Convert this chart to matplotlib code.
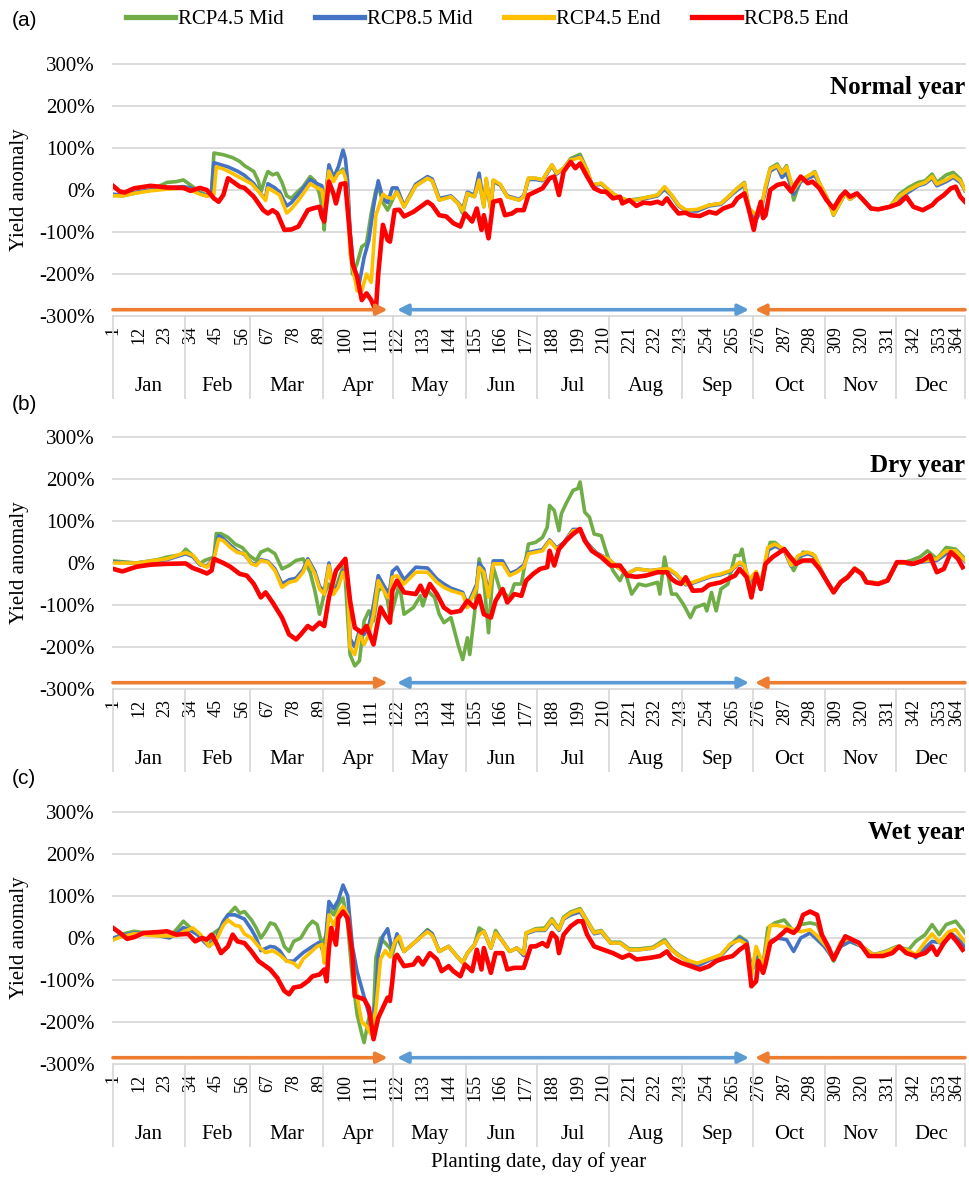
import matplotlib
matplotlib.use("Agg")
import matplotlib.pyplot as plt
from matplotlib.lines import Line2D
from matplotlib.transforms import blended_transform_factory

plt.rcParams['font.family'] = ['Liberation Serif', 'DejaVu Serif']

# series styling
series_names = ['RCP4.5 Mid', 'RCP8.5 Mid', 'RCP4.5 End', 'RCP8.5 End']
series_colors = ['#70AD47', '#4472C4', '#FFC000', '#FF0000']
series_widths = [2.6, 2.6, 2.6, 3.3]

# category axis
month_names = ['Jan', 'Feb', 'Mar', 'Apr', 'May', 'Jun',
               'Jul', 'Aug', 'Sep', 'Oct', 'Nov', 'Dec']
month_starts = [1, 32, 60, 91, 121, 152, 182, 213, 244, 274, 305, 335, 365]
tick_days = list(range(1, 365, 11))
y_ticks = [-300, -200, -100, 0, 100, 200, 300]

# (day, yield anomaly %)
# ---- (a) normal year
normal_45_mid = [
    (1, -12), (5, -14), (10, -8), (17, 0), (21, 10), (24, 18), (28, 20), (31, 24), (34, 12),
    (38, -5), (41, -12), (43, -2), (44, 88), (46, 86), (48, 84), (52, 77), (55, 68), (57, 58),
    (61, 44), (63, 20), (64, -5), (66, 30), (67, 44), (69, 36), (71, 40), (73, 18), (75, -14),
    (77, -20), (79, -8), (82, 8), (85, 32), (87, 22), (89, -10), (90, -40), (91, -95), (92, 10),
    (93, 45), (95, 30), (97, 40), (99, 50), (100, 35), (101, -10), (102, -100), (103, -200),
    (105, -175), (107, -135), (109, -127), (111, -56), (113, 0), (114, 10), (116, -30),
    (118, -48), (120, -25), (122, 0), (125, -40), (130, 10), (135, 28), (137, 22), (140, -24),
    (145, -16), (148, -32), (150, -56), (152, -10), (155, -16), (157, 20), (159, -40), (160, 20),
    (162, -48), (163, 20), (166, 12), (169, -16), (174, -24), (176, -16), (178, 28), (181, 28),
    (184, 24), (188, 60), (190, 40), (193, 52), (196, 75), (198, 80), (200, 85), (203, 48),
    (205, 12), (209, 16), (213, -4), (216, -16), (220, -24), (224, -22), (228, -18), (230, -16),
    (233, -12), (236, 6), (239, -12), (242, -36), (245, -48), (250, -48), (255, -36), (260, -32),
    (264, -12), (267, 4), (270, 18), (272, -44), (275, -60), (277, -48), (279, 8), (281, 52),
    (284, 62), (286, 42), (288, 58), (291, -24), (294, 24), (298, 36), (300, 44), (302, 16),
    (305, -16), (308, -60), (311, -28), (313, -8), (315, -22), (318, -10), (320, -20), (324, -44),
    (327, -46), (332, -40), (336, -10), (340, 6), (344, 18), (347, 22), (350, 38), (352, 18),
    (356, 36), (359, 42), (362, 26), (364, -2)]
normal_85_mid = [
    (1, -10), (5, -12), (10, -6), (17, 0), (24, 5), (31, 8), (34, 5), (38, -8), (41, -14),
    (43, -5), (44, 65), (47, 60), (50, 55), (54, 45), (57, 35), (61, 15), (64, -10), (66, -20),
    (67, 15), (70, 5), (72, -5), (75, -38), (77, -30), (80, -10), (85, 25), (88, 15), (90, 10),
    (91, -50), (93, 60), (95, 30), (97, 55), (99, 95), (100, 75), (101, 20), (102, -100),
    (104, -210), (106, -220), (108, -160), (110, -120), (112, -40), (114, 22), (116, -20),
    (118, -30), (120, 5), (122, 5), (125, -38), (130, 14), (135, 32), (137, 26), (140, -20),
    (145, -14), (148, -30), (150, -45), (152, -5), (155, -12), (157, 40), (159, -35), (160, 25),
    (162, -45), (163, 22), (166, 12), (169, -14), (174, -22), (176, -14), (178, 25), (181, 25),
    (184, 22), (188, 58), (190, 38), (193, 50), (196, 72), (198, 76), (200, 80), (203, 45),
    (205, 10), (209, 14), (213, -6), (216, -18), (220, -26), (224, -24), (228, -20), (230, -18),
    (233, -14), (236, 2), (239, -14), (242, -38), (245, -50), (250, -50), (255, -38), (260, -34),
    (264, -14), (267, 0), (270, 12), (272, -50), (275, -71), (277, -50), (279, 0), (281, 45),
    (284, 55), (286, 30), (288, 40), (291, -10), (294, 20), (298, 30), (300, 35), (302, 14),
    (305, -18), (308, -55), (311, -28), (313, -8), (315, -22), (318, -10), (320, -20), (324, -44),
    (327, -46), (332, -40), (336, -20), (340, -5), (344, 10), (347, 15), (350, 28), (352, 10),
    (356, 20), (359, 30), (362, 18), (364, 0)]
normal_45_end = [
    (1, -14), (5, -14), (10, -8), (17, -2), (24, 2), (31, 5), (34, 0), (38, -10), (41, -15),
    (44, -10), (45, 55), (48, 50), (50, 45), (55, 30), (60, 15), (64, -10), (66, -25), (67, 5),
    (70, -5), (72, -12), (75, -55), (77, -45), (80, -25), (85, 15), (88, 5), (90, 0), (91, -40),
    (93, 45), (95, 20), (97, 40), (99, 45), (100, 30), (101, -20), (102, -150), (105, -240),
    (107, -240), (109, -200), (111, -220), (113, -60), (116, -10), (118, -18), (120, -20),
    (122, -5), (125, -40), (130, 10), (135, 28), (137, 22), (140, -24), (145, -16), (148, -32),
    (150, -50), (152, -8), (155, -16), (157, 24), (159, -40), (160, 28), (162, -48), (163, 24),
    (166, 14), (169, -16), (174, -24), (176, -16), (178, 28), (181, 28), (184, 24), (188, 60),
    (190, 40), (193, 52), (196, 72), (198, 74), (200, 78), (203, 48), (205, 12), (209, 16),
    (213, -4), (216, -16), (220, -24), (224, -24), (228, -18), (230, -16), (233, -12), (236, 8),
    (239, -12), (242, -36), (245, -48), (250, -46), (255, -36), (260, -32), (264, -12), (267, 4),
    (270, 16), (272, -44), (275, -60), (277, -48), (279, 8), (281, 50), (284, 58), (286, 40),
    (288, 55), (291, 0), (294, 24), (298, 36), (300, 42), (302, 16), (305, -16), (308, -58),
    (311, -28), (313, -8), (315, -22), (318, -10), (320, -20), (324, -44), (327, -46), (332, -40),
    (336, -15), (340, 0), (344, 12), (347, 18), (350, 32), (352, 14), (356, 24), (359, 34),
    (362, 22), (364, 0)]
normal_85_end = [
    (1, 10), (4, -4), (6, -6), (10, 4), (17, 10), (24, 6), (31, 5), (34, -2), (38, 5), (41, 0),
    (44, -20), (46, -28), (48, -12), (50, 28), (52, 20), (55, 8), (57, 5), (61, -16), (65, -48),
    (67, -56), (69, -48), (71, -56), (74, -95), (77, -94), (80, -87), (84, -48), (86, -44),
    (89, -40), (90, -64), (91, -75), (93, 20), (95, -10), (96, -32), (98, 14), (100, 16),
    (101, -48), (103, -175), (105, -206), (107, -262), (109, -246), (111, -262), (113, -288),
    (114, -200), (116, -83), (118, -119), (119, -123), (121, -48), (123, -47), (125, -63),
    (129, -52), (132, -40), (135, -28), (137, -36), (140, -60), (143, -63), (146, -79), (149, -87),
    (151, -56), (154, -75), (156, -44), (158, -95), (159, -60), (161, -115), (163, -28),
    (166, -24), (168, -60), (171, -56), (173, -48), (176, -48), (178, -12), (181, -4), (184, 4),
    (187, 28), (189, 32), (191, -12), (193, 44), (196, 67), (198, 52), (200, 63), (203, 32),
    (206, 4), (209, -4), (211, -4), (214, -20), (217, -16), (218, -32), (221, -24), (224, -38),
    (227, -30), (230, -32), (233, -28), (235, -33), (237, -20), (239, -36), (242, -56), (245, -54),
    (247, -60), (251, -62), (255, -52), (258, -56), (261, -44), (265, -36), (267, -20), (270, -8),
    (272, -48), (274, -95), (275, -67), (277, -28), (278, -67), (279, -60), (281, 0), (284, 12),
    (287, 16), (290, -4), (292, 16), (294, 32), (297, 16), (299, 20), (302, 4), (305, -24),
    (308, -44), (311, -16), (313, -4), (315, -16), (318, -8), (320, -20), (324, -44), (327, -46),
    (332, -40), (336, -32), (339, -16), (342, -40), (346, -48), (350, -36), (352, -24),
    (355, -12), (358, 4), (360, 8), (362, -16), (364, -28)]

# ---- (b) dry year
dry_45_mid = [
    (1, 5), (11, 0), (20, 8), (24, 14), (30, 20), (32, 33), (35, 18), (38, -2), (40, 6), (44, 14),
    (45, 70), (47, 70), (50, 61), (53, 45), (56, 37), (59, 18), (62, 6), (64, 26), (67, 33),
    (70, 22), (73, -14), (76, -6), (79, 6), (82, 10), (85, -22), (87, -66), (89, -122), (91, -74),
    (93, -50), (95, -74), (97, -42), (99, -10), (100, -40), (102, -218), (104, -245), (106, -233),
    (108, -138), (110, -114), (112, -138), (114, -66), (116, -58), (118, -90), (119, -130),
    (120, -114), (123, -50), (125, -122), (129, -106), (132, -78), (133, -102), (135, -66),
    (138, -82), (140, -122), (142, -142), (145, -130), (148, -194), (150, -230), (152, -178),
    (153, -218), (155, -122), (157, 10), (159, -42), (161, -166), (163, -10), (166, -66),
    (170, -82), (172, -50), (175, -50), (178, 45), (181, 49), (184, 61), (186, 85), (187, 137),
    (189, 125), (191, 77), (192, 117), (194, 141), (197, 173), (199, 177), (200, 193), (202, 121),
    (204, 109), (206, 69), (209, 65), (211, 29), (214, -18), (217, -42), (219, -18), (222, -74),
    (225, -50), (228, -54), (233, -46), (234, -74), (236, 14), (239, -74), (241, -74), (244, -98),
    (247, -130), (249, -106), (253, -98), (254, -114), (256, -70), (258, -114), (260, -62),
    (263, -50), (266, 18), (268, 18), (269, 33), (272, -58), (275, -26), (277, -62), (279, -2),
    (281, 49), (283, 49), (287, 29), (291, -18), (295, 26), (299, 22), (302, -14), (305, -42),
    (308, -70), (311, -46), (314, -34), (317, -14), (320, -26), (322, -46), (327, -50), (331, -42),
    (335, 2), (338, 2), (341, 6), (345, 15), (348, 29), (352, 10), (356, 37), (360, 33), (364, 10)]
dry_85_mid = [
    (1, 2), (11, 0), (24, 8), (32, 22), (35, 15), (38, -4), (41, -8), (44, 12), (46, 65), (48, 58),
    (51, 42), (54, 28), (57, 20), (60, 0), (62, -4), (64, 8), (67, 4), (70, -14), (73, -50),
    (76, -40), (79, -36), (82, -16), (84, 10), (87, -20), (89, -56), (91, -68), (93, 0), (95, -70),
    (97, -52), (99, -18), (101, -40), (102, -180), (104, -200), (106, -160), (108, -170),
    (110, -150), (112, -100), (114, -30), (116, -50), (118, -70), (119, -60), (120, -20),
    (122, -10), (125, -40), (130, -10), (135, -12), (139, -38), (142, -50), (145, -60), (150, -70),
    (152, -100), (156, -50), (157, 0), (159, -15), (161, -75), (163, 5), (167, 5), (170, -25),
    (173, -18), (176, -5), (178, 25), (184, 32), (187, 55), (190, 36), (193, 48), (197, 80),
    (200, 80), (203, 48), (207, 24), (212, 10), (216, -10), (220, -26), (224, -14), (230, -18),
    (236, -14), (238, -16), (241, -28), (245, -52), (248, -48), (252, -40), (256, -32), (260, -28),
    (264, -20), (268, 0), (270, -8), (272, -42), (275, -22), (277, -52), (280, 30), (283, 40),
    (287, 30), (290, -8), (293, 15), (297, 22), (300, 16), (303, -20), (305, -42), (308, -68),
    (311, -44), (314, -32), (317, -12), (320, -24), (322, -44), (327, -48), (331, -40), (335, 0),
    (338, 0), (341, -4), (345, 2), (348, 4), (352, 6), (356, 22), (360, 24), (364, 4)]
dry_45_end = [
    (1, 0), (11, 0), (24, 10), (32, 25), (35, 18), (38, -2), (41, -10), (44, 10), (46, 57),
    (48, 53), (51, 37), (54, 25), (57, 22), (60, -2), (62, -6), (64, 6), (67, 2), (70, -18),
    (73, -58), (76, -46), (79, -42), (82, -22), (84, 6), (87, -26), (89, -62), (91, -74), (93, -6),
    (95, -74), (97, -58), (99, -22), (101, -50), (102, -202), (104, -218), (106, -170),
    (108, -194), (110, -170), (112, -122), (114, -42), (116, -62), (118, -82), (119, -74),
    (120, -34), (122, -30), (125, -50), (130, -22), (135, -22), (139, -46), (142, -58), (145, -66),
    (150, -74), (152, -106), (156, -58), (157, -10), (159, -22), (161, -82), (163, -2), (167, -2),
    (170, -30), (173, -22), (176, -10), (178, 22), (184, 29), (187, 53), (190, 33), (193, 45),
    (197, 77), (200, 77), (203, 45), (207, 22), (212, 10), (216, -10), (220, -26), (224, -14),
    (230, -18), (236, -14), (238, -14), (241, -26), (245, -50), (248, -46), (252, -38), (256, -30),
    (260, -26), (264, -18), (268, 2), (270, -6), (272, -40), (275, -20), (277, -50), (280, 37),
    (283, 45), (287, 33), (290, -6), (293, 18), (297, 26), (300, 18), (303, -20), (305, -42),
    (308, -68), (311, -44), (314, -32), (317, -12), (320, -24), (322, -44), (327, -48), (331, -40),
    (335, 0), (338, 0), (341, -2), (345, 4), (348, 6), (352, 10), (356, 29), (360, 29), (364, 6)]
dry_85_end = [
    (1, -14), (5, -20), (11, -9), (17, -4), (24, -2), (32, -1), (35, -12), (38, -18), (41, -25),
    (43, -18), (44, 10), (48, 0), (51, -9), (55, -26), (58, -30), (61, -50), (64, -82), (66, -70),
    (69, -94), (73, -130), (76, -170), (79, -182), (81, -170), (84, -150), (86, -158), (89, -142),
    (91, -150), (93, -82), (96, -18), (100, 10), (102, -90), (104, -154), (107, -166), (109, -150),
    (112, -194), (115, -106), (117, -126), (119, -142), (120, -66), (122, -42), (125, -70),
    (130, -74), (132, -54), (134, -78), (136, -50), (139, -74), (142, -106), (145, -118),
    (149, -114), (152, -90), (155, -106), (157, -78), (159, -122), (162, -130), (164, -90),
    (167, -62), (169, -94), (172, -74), (175, -78), (177, -42), (180, -26), (183, -14), (186, -10),
    (187, 29), (189, -6), (191, 33), (194, 53), (197, 69), (200, 81), (202, 53), (205, 29),
    (209, 14), (213, -6), (217, -6), (220, -30), (224, -33), (228, -30), (233, -22), (237, -22),
    (239, -38), (241, -46), (243, -50), (245, -34), (248, -66), (252, -65), (255, -52), (260, -46),
    (263, -38), (266, -30), (268, -14), (271, -34), (273, -82), (275, -26), (277, -62), (279, -2),
    (282, 14), (287, 33), (289, 18), (292, -2), (295, 6), (299, 6), (302, -14), (305, -42),
    (308, -70), (311, -46), (314, -34), (317, -14), (320, -26), (322, -46), (327, -50), (331, -42),
    (335, 2), (338, 2), (342, -2), (346, 6), (349, 18), (352, -22), (355, -14), (358, 26),
    (361, 10), (363, -10)]

# ---- (c) wet year
wet_45_mid = [
    (1, -4), (4, 8), (10, 16), (20, 8), (25, 2), (28, 20), (31, 40), (34, 24), (37, 12), (40, -8),
    (42, -20), (44, 12), (47, 24), (50, 55), (53, 73), (55, 59), (57, 63), (60, 43), (62, 24),
    (64, 0), (66, 16), (68, 36), (70, 32), (72, 12), (74, -20), (76, -32), (78, -8), (81, 0),
    (84, 28), (86, 40), (88, 32), (90, -16), (92, 8), (93, 71), (95, 55), (97, 79), (99, 95),
    (101, 32), (103, -95), (105, -182), (107, -229), (108, -249), (110, -190), (112, -182),
    (113, -47), (115, 0), (117, -12), (119, -24), (120, -40), (122, 2), (125, -32), (130, -8),
    (135, 20), (137, 10), (140, -32), (144, -20), (147, -40), (150, -59), (152, -36), (155, -16),
    (157, 24), (159, 16), (162, -24), (164, 18), (167, -8), (170, -32), (173, -24), (176, -35),
    (177, 12), (181, 22), (185, 24), (188, 46), (191, 22), (193, 50), (196, 62), (200, 70),
    (203, 42), (206, 14), (209, 18), (213, -10), (217, -10), (221, -26), (225, -26), (231, -22),
    (236, -4), (239, -26), (242, -40), (245, -50), (250, -65), (255, -51), (260, -40), (264, -16),
    (268, 4), (271, -8), (273, -70), (276, -40), (278, -60), (280, 24), (283, 36), (287, 43),
    (291, 16), (294, 32), (298, 36), (301, 32), (304, -12), (308, -55), (311, -20), (315, -8),
    (320, -20), (325, -40), (330, -32), (335, -20), (340, -28), (343, -8), (347, 8), (350, 32),
    (353, 8), (356, 32), (360, 40), (364, 12)]
wet_85_mid = [
    (1, 0), (4, 5), (10, 12), (20, 6), (25, 0), (28, 10), (31, 25), (34, 18), (37, 8), (40, -10),
    (42, -20), (45, 0), (48, 40), (50, 55), (53, 55), (55, 50), (57, 45), (60, 20), (62, 0),
    (64, -30), (66, -25), (68, -20), (70, -22), (72, -30), (75, -55), (78, -55), (80, -45),
    (82, -35), (86, -20), (89, -10), (91, -40), (93, 87), (95, 70), (97, 90), (99, 126),
    (101, 100), (103, -20), (105, -80), (107, -120), (109, -160), (111, -200), (113, -150),
    (114, -40), (116, 5), (118, 22), (120, -30), (122, 10), (125, -32), (130, -8), (135, 18),
    (137, 10), (140, -32), (144, -20), (147, -40), (150, -59), (152, -36), (155, -16), (157, 10),
    (159, 16), (162, -24), (164, 12), (167, -8), (170, -32), (173, -24), (176, -42), (177, 10),
    (181, 18), (185, 18), (188, 40), (191, 18), (193, 45), (196, 55), (200, 62), (203, 38),
    (206, 10), (209, 14), (213, -12), (217, -12), (221, -28), (225, -28), (231, -24), (236, -8),
    (239, -28), (242, -42), (245, -52), (250, -67), (255, -53), (260, -42), (264, -18), (268, 0),
    (271, -10), (273, -80), (276, -45), (278, -62), (281, -8), (284, 0), (288, -4), (291, -32),
    (294, 0), (298, 12), (301, -4), (304, -20), (308, -50), (311, -20), (315, -8), (320, -20),
    (325, -40), (330, -34), (335, -22), (340, -30), (343, -47), (347, -24), (350, -8), (354, -12),
    (358, 12), (362, -8), (364, -20)]
wet_45_end = [
    (1, -5), (4, 2), (10, 10), (20, 5), (28, 5), (31, 15), (35, 24), (38, 10), (42, -20), (45, -5),
    (48, 30), (50, 43), (53, 30), (55, 28), (57, 10), (60, 0), (63, -20), (66, -35), (69, -30),
    (72, -40), (75, -55), (78, -60), (80, -70), (82, -50), (85, -35), (88, -20), (90, -15),
    (91, -60), (93, 55), (95, 30), (97, 60), (99, 75), (101, 55), (103, -50), (105, -140),
    (107, -200), (109, -210), (111, -230), (113, -170), (115, -50), (117, -30), (119, -45),
    (121, -10), (123, 4), (125, -32), (130, -8), (135, 15), (137, 6), (140, -32), (144, -20),
    (147, -40), (150, -59), (152, -36), (155, -16), (157, 8), (159, 16), (162, -24), (164, 12),
    (167, -8), (170, -32), (173, -24), (176, -38), (177, 12), (181, 20), (185, 20), (188, 43),
    (191, 20), (193, 47), (196, 59), (200, 67), (203, 40), (206, 12), (209, 16), (213, -12),
    (217, -12), (221, -28), (225, -28), (231, -24), (236, -8), (239, -28), (242, -42), (245, -52),
    (250, -60), (255, -50), (260, -40), (264, -14), (268, -5), (271, -15), (273, -90), (275, -20),
    (278, -65), (281, 30), (284, 30), (288, 25), (291, 20), (294, 15), (298, 20), (301, 5),
    (305, -20), (308, -50), (311, -10), (315, 0), (320, -20), (325, -40), (330, -34), (335, -22),
    (340, -30), (343, -40), (347, -10), (350, 10), (353, -10), (357, 15), (360, 20), (364, -10)]
wet_85_end = [
    (1, 24), (4, 12), (7, -2), (10, 2), (14, 12), (20, 14), (24, 16), (28, 8), (33, 10), (36, -8),
    (39, 0), (41, -4), (43, 8), (45, -12), (47, -36), (50, -20), (52, 8), (54, -8), (57, -12),
    (60, -32), (63, -55), (66, -67), (68, -75), (71, -95), (74, -126), (76, -134), (78, -118),
    (81, -115), (84, -103), (86, -91), (89, -87), (91, -75), (92, -103), (93, -24), (94, 24),
    (96, -16), (97, 47), (99, 63), (101, 47), (103, -40), (104, -138), (106, -142), (108, -146),
    (110, -166), (112, -241), (114, -190), (116, -166), (118, -142), (119, -150), (120, -103),
    (121, -47), (122, -40), (125, -67), (129, -63), (131, -47), (133, -63), (136, -36), (139, -51),
    (141, -79), (144, -67), (146, -79), (149, -91), (151, -63), (154, -79), (156, -28), (158, -75),
    (159, -24), (162, -83), (164, -36), (167, -36), (169, -75), (172, -71), (176, -71), (179, -20),
    (181, -20), (184, -12), (186, -20), (188, 12), (190, 0), (191, -36), (193, 8), (196, 28),
    (199, 40), (201, 40), (203, 8), (206, -20), (210, -28), (214, -36), (218, -47), (221, -40),
    (224, -51), (230, -47), (234, -43), (237, -32), (239, -47), (243, -59), (247, -67), (251, -75),
    (255, -67), (258, -55), (262, -47), (265, -43), (268, -28), (271, -16), (273, -115),
    (275, -103), (276, -55), (278, -83), (279, -63), (281, -12), (284, 0), (288, 20), (291, 12),
    (293, 24), (295, 55), (298, 63), (301, 55), (303, 8), (306, -24), (308, -51), (310, -28),
    (313, 4), (316, -4), (319, -12), (323, -43), (329, -43), (333, -36), (336, -20), (339, -36),
    (343, -43), (347, -36), (350, -20), (352, -40), (355, -12), (358, 8), (361, -12), (363, -28)]

panels = [
    ('(a)', 'Normal year', 245, 64, 20,
     [normal_45_mid, normal_85_mid, normal_45_end, normal_85_end]),
    ('(b)', 'Dry year', 233, 437, 405,
     [dry_45_mid, dry_85_mid, dry_45_end, dry_85_end]),
    ('(c)', 'Wet year', 252, 812, 779,
     [wet_45_mid, wet_85_mid, wet_45_end, wet_85_end]),
]

W, H = 970, 1180
fig = plt.figure(figsize=(W / 100, H / 100), dpi=100)
grid_col = '#D9D9D9'

for letter, year_txt, year_y, top_px, letter_y, series in panels:
    ax = fig.add_axes([113 / W, 1 - (top_px + 252) / H, 852 / W, 252 / H])
    for data, col, lw in zip(series, series_colors, series_widths):
        days = [d for d, v in data]
        vals = [v for d, v in data]
        ax.plot(days, vals, color=col, lw=lw, solid_joinstyle='round', zorder=3)

    ax.set_xlim(1, 364)
    ax.set_ylim(-300, 300)
    for s in ax.spines.values():
        s.set_visible(False)
    for yv in y_ticks:
        ax.axhline(yv, color=grid_col, lw=1.3, zorder=1, clip_on=False)
    ax.set_yticks(y_ticks)
    ax.set_yticklabels([f'{v}%' for v in y_ticks], fontsize=15)
    ax.set_xticks(tick_days)
    ax.set_xticklabels([str(d) for d in tick_days], rotation=90, fontsize=13)
    ax.get_xticklabels()[-1].set_horizontalalignment('right')
    ax.tick_params(axis='y', length=0, pad=13)
    ax.tick_params(axis='x', length=0, pad=7)

    # month grouping under the day numbers
    tr = blended_transform_factory(ax.transData, ax.transAxes)
    seps = [1] + [m - 0.5 for m in month_starts[1:-1]] + [364]
    for x in seps:
        ax.add_line(Line2D([x, x], [0, -0.325], transform=tr, color=grid_col,
                           lw=1.3, clip_on=False))
    for i, name in enumerate(month_names):
        xc = (month_starts[i] + month_starts[i + 1] - 1) / 2
        ax.text(xc, -0.278, name, transform=tr, ha='center', va='center', fontsize=15)

    # growing-season arrows
    ap = dict(lw=2.6, shrinkA=0, shrinkB=0, mutation_scale=16)
    ax.annotate('', xy=(118, -285), xytext=(1, -285),
                arrowprops=dict(arrowstyle='-|>', color='#ED7D31', **ap), annotation_clip=False)
    ax.annotate('', xy=(272, -285), xytext=(122, -285),
                arrowprops=dict(arrowstyle='<|-|>', color='#5B9BD5', **ap), annotation_clip=False)
    ax.annotate('', xy=(274.5, -285), xytext=(364, -285),
                arrowprops=dict(arrowstyle='-|>', color='#ED7D31', **ap), annotation_clip=False)

    ax.text(364, year_y, year_txt, ha='right', va='center', fontsize=18, fontweight='bold')
    fig.text(12 / W, 1 - letter_y / H, letter, ha='left', va='center', fontsize=15,
             family=['Liberation Sans', 'DejaVu Sans'])
    fig.text(20 / W, 1 - (top_px + 126) / H, 'Yield anomaly', rotation=90,
             ha='center', va='center', fontsize=15)

handles = [Line2D([0], [0], color=c, lw=3.8) for c in series_colors]
fig.legend(handles, series_names, loc='center', bbox_to_anchor=(487 / W, 1 - 19 / H),
           ncol=4, frameon=False, fontsize=15, handlelength=2.35, handletextpad=0.15,
           columnspacing=1.5, borderpad=0)

fig.text(539 / W, 1 - 1162 / H, 'Planting date, day of year', ha='center', va='center',
         fontsize=15)

fig.savefig('out.png', dpi=100)
